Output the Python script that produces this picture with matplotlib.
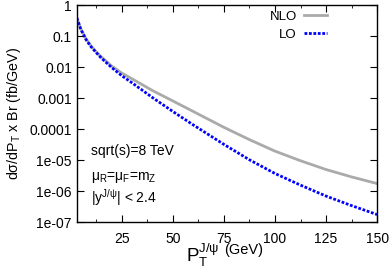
import numpy as np
import matplotlib
matplotlib.use('Agg')
from matplotlib import pyplot as plt
from matplotlib.ticker import FixedLocator, LogLocator, NullFormatter

plt.rcParams['font.family'] = ['Liberation Sans', 'DejaVu Sans']
plt.rcParams['mathtext.default'] = 'regular'

# pT values (GeV) and cross sections
pt = [3, 5, 7.5, 10, 12.5, 15, 20, 25, 30, 40, 50, 60, 75, 87.5, 100,
      112.5, 125, 137.5, 150]
nlo = [0.40, 0.174, 0.085, 0.049, 0.032, 0.022, 0.0112, 0.0066, 0.0043,
       0.0018, 8.3e-4, 3.8e-4, 1.17e-4, 4.7e-5, 2.0e-5, 9.8e-6, 5.1e-6,
       2.95e-6, 1.8e-6]
lo = [0.39, 0.166, 0.079, 0.046, 0.030, 0.020, 0.010, 0.0054, 0.0032,
      0.00107, 3.8e-4, 1.4e-4, 3.3e-5, 1.05e-5, 3.8e-6, 1.6e-6, 7.1e-7,
      3.5e-7, 1.8e-7]

xticks = [25, 50, 75, 100, 125, 150]
yticks = [1, 0.1, 0.01, 0.001, 0.0001, 1e-5, 1e-6, 1e-7]
ylabels = ['1', '0.1', '0.01', '0.001', '0.0001', '1e-05', '1e-06', '1e-07']

W, H = 390, 271
fig = plt.figure(figsize=(W / 100, H / 100), dpi=100)
ax = fig.add_axes([0.197, 0.179, 0.770, 0.801])

ax.plot(pt, nlo, color='#aaaaaa', lw=2, label='NLO')
ax.plot(pt, lo, color='#0000ff', lw=2, ls=(0, (1, 0.6)), label='LO')

ax.set_yscale('log')
ax.set_xlim(3, 150)
ax.set_ylim(1e-7, 1)
ax.set_yticks(yticks)
ax.set_yticklabels(ylabels)
ax.yaxis.set_minor_locator(LogLocator(base=10, subs=np.arange(2, 10)))
ax.yaxis.set_minor_formatter(NullFormatter())
ax.set_xticks(xticks)
ax.xaxis.set_minor_locator(FixedLocator([12.5, 37.5, 62.5, 87.5, 112.5, 137.5]))
ax.tick_params(which='both', direction='in', top=True, right=True, labelsize=10)
ax.tick_params(axis='x', which='major', pad=6.5)
ax.tick_params(which='major', length=5)
ax.tick_params(which='minor', length=2.5)
for s in ax.spines.values():
    s.set_linewidth(1)

ax.set_ylabel(r'd$\sigma$/dP$_T$ x Br (fb/GeV)', fontsize=10.3, labelpad=5)

# x label: big P with sub/superscript, then (GeV)
fig.text(186.5 / W, 1 - 262 / H, r'$P_T^{J/\psi}$', fontsize=13.5, va='baseline')
fig.text(224.5 / W, 1 - 254 / H, '(GeV)', fontsize=10.5, va='baseline')

# key, gnuplot style (text left of sample)
ax.legend(loc='upper right', frameon=False, fontsize=9.5, markerfirst=False,
          handlelength=1.75, handletextpad=0.55, borderaxespad=0, borderpad=0,
          bbox_to_anchor=(0.833, 0.977), labelspacing=0.44)

ax.text(0.048, 0.311, 'sqrt(s)=8 TeV', transform=ax.transAxes, fontsize=10, va='baseline')
ax.text(0.048, 0.196, r'$\mu_R$=$\mu_F$=m$_Z$', transform=ax.transAxes, fontsize=10, va='baseline')
ax.text(0.048, 0.092, r'|y$^{J/\psi}$| < 2.4', transform=ax.transAxes, fontsize=10, va='baseline')

fig.savefig('out.png', dpi=100)
